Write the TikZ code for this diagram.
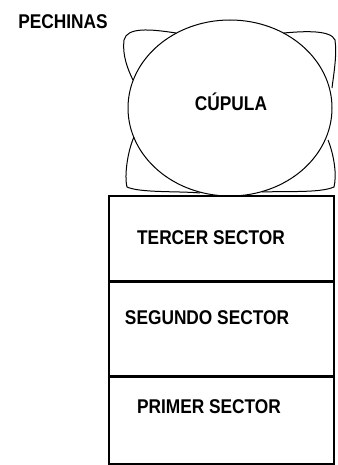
\documentclass[tikz,border=0pt]{standalone}
\usepackage{fontspec}
\usepackage{graphicx}
\setmainfont{Liberation Sans}
\usetikzlibrary{shapes.geometric}
\newcommand{\tallt}[1]{\scalebox{1}[1.15]{#1}}
\begin{document}
\begin{tikzpicture}[x=1pt,y=-1pt,
  lbl/.style={font=\bfseries\fontsize{17.3}{19}\selectfont, inner sep=0pt},
  sector/.style={draw, line width=1.5pt, minimum width=225pt, inner sep=0pt, anchor=north west},
  pech/.style={draw, line width=1pt, line join=round}]
\useasboundingbox (0,0) rectangle (337,465);
\node[draw, line width=1pt, ellipse, minimum width=204pt, minimum height=176pt, inner sep=0pt] (cupula) at (230,108) {};
\node[lbl] (tcup) at (231,102) {\tallt{CÚPULA}};
\node[lbl] (tpech) at (63,22) {\tallt{PECHINAS}};
% pechinas
\coordinate (tl1) at (176,33);
\coordinate (tl2) at (133,80);
\draw[pech] (tl1) .. controls (150,29) and (127,27) .. (124,40) .. controls (122,55) and (128,70) .. (tl2);
\coordinate (tr1) at (284,33);
\coordinate (tr2) at (332,88);
\draw[pech] (tr1) .. controls (305,31) and (331,30) .. (335,40) .. controls (337,55) and (334,72) .. (tr2);
\coordinate (bl1) at (134,137);
\coordinate (bl2) at (200,193);
\draw[pech] (bl1) .. controls (128,150) and (124,175) .. (127,187) .. controls (140,193) and (180,191) .. (bl2);
\coordinate (br1) at (328,140);
\coordinate (br2) at (262,192);
\draw[pech] (br1) .. controls (334,155) and (337,175) .. (334,187) .. controls (320,193) and (290,191) .. (br2);
% sectors
\node[sector, minimum height=85pt] (s3) at (108,195) {};
\node[sector, minimum height=93pt] (s2) at (s3.south west) {};
\node[sector, minimum height=87pt] (s1) at (s2.south west) {};
\node[lbl] (t3) at (211,238) {\tallt{TERCER SECTOR}};
\node[lbl] (t2) at (207,318) {\tallt{SEGUNDO SECTOR}};
\node[lbl] (t1) at (209,407) {\tallt{PRIMER SECTOR}};
\end{tikzpicture}
\end{document}
